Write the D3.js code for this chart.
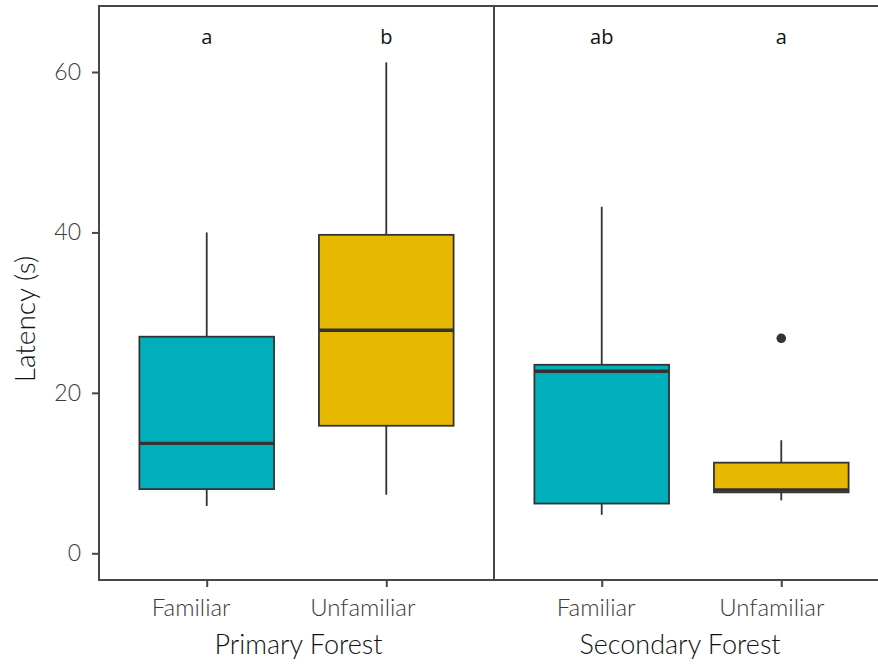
<!DOCTYPE html>
<html>
<head>
<meta charset="utf-8">
<script src="https://cdn.jsdelivr.net/npm/d3@7"></script>
<style>
  html, body { margin: 0; padding: 0; background: #fff; }
  svg { display: block; }
</style>
</head>
<body>
<svg id="chart" width="878" height="668"></svg>
<script>
// Latency by familiarity, split by forest type
const panels = ["Primary Forest", "Secondary Forest"];
const categories = ["Familiar", "Unfamiliar"];
// five-number summaries: [lower whisker, Q1, median, Q3, upper whisker]
const primaryStats = [
  [5.9, 8.0, 13.7, 27.0, 40.0],
  [7.3, 15.9, 27.8, 39.7, 61.2]
];
const secondaryStats = [
  [4.8, 6.2, 22.7, 23.5, 43.2],
  [6.6, 7.6, 7.9, 11.3, 14.1]
];
const primaryOutliers = [[], []];
const secondaryOutliers = [[], [26.8]];
const letters = [["a", "b"], ["ab", "a"]];
const yTicks = [0, 20, 40, 60];
const fillColors = ["#00AFBB", "#E7B800"];

// layout
const W = 878;
const frameTop = 6, frameBottom = 580;
const panelX = [[99, 494], [494, 889]];
const tickLabelShift = [[-16, -24], [-6, -10]];
const titleShift = [2, -6];

const svg = d3.select("#chart");
const y = d3.scaleLinear().domain([0, 60]).range([553.3, 72]);

const lineColor = "#333333";
const frameColor = "#474747";
const font = "Lato, 'Open Sans', sans-serif";

const statsByPanel = [primaryStats, secondaryStats];
const outliersByPanel = [primaryOutliers, secondaryOutliers];

panels.forEach((pName, pi) => {
  const [x0, x1] = panelX[pi];
  const x = d3.scalePoint().domain(categories).range([x0, x1]).padding(0.6);
  const boxW = x.step() * 0.75;
  const g = svg.append("g");

  // box plots
  categories.forEach((c, ci) => {
    const s = statsByPanel[pi][ci];
    const cx = x(c);
    g.append("line")
      .attr("x1", cx).attr("x2", cx)
      .attr("y1", y(s[0])).attr("y2", y(s[1]))
      .attr("stroke", lineColor).attr("stroke-width", 1.8);
    g.append("line")
      .attr("x1", cx).attr("x2", cx)
      .attr("y1", y(s[3])).attr("y2", y(s[4]))
      .attr("stroke", lineColor).attr("stroke-width", 1.8);
    g.append("rect")
      .attr("x", cx - boxW / 2).attr("width", boxW)
      .attr("y", y(s[3])).attr("height", y(s[1]) - y(s[3]))
      .attr("fill", fillColors[ci])
      .attr("stroke", lineColor).attr("stroke-width", 1.8);
    g.append("line")
      .attr("x1", cx - boxW / 2).attr("x2", cx + boxW / 2)
      .attr("y1", y(s[2])).attr("y2", y(s[2]))
      .attr("stroke", lineColor).attr("stroke-width", 3.4);
    outliersByPanel[pi][ci].forEach(v => {
      g.append("circle")
        .attr("cx", cx).attr("cy", y(v)).attr("r", 4.8)
        .attr("fill", lineColor);
    });
    // significance letters
    g.append("text")
      .attr("x", cx).attr("y", 44)
      .attr("text-anchor", "middle")
      .attr("font-family", "'Open Sans', 'Noto Sans', sans-serif")
      .attr("font-size", 20)
      .attr("fill", "#111")
      .text(letters[pi][ci]);
  });

  // x axis with category ticks
  const xAxis = g.append("g")
    .attr("transform", `translate(0,${frameBottom})`)
    .call(d3.axisBottom(x).tickSize(7).tickSizeOuter(0));
  xAxis.select(".domain").remove();
  xAxis.selectAll(".tick line").attr("stroke", frameColor).attr("stroke-width", 2);
  xAxis.selectAll(".tick text")
    .attr("y", 36).attr("dy", 0)
    .attr("dx", (d, i) => tickLabelShift[pi][i])
    .attr("font-family", font).attr("font-weight", 300)
    .attr("font-size", 24).attr("fill", "#3a3a3a");

  // panel frame
  const frame = [
    [x0, frameTop, x1, frameTop],
    [x0, frameBottom, x1, frameBottom],
    [x0, frameTop, x0, frameBottom],
    [x1, frameTop, x1, frameBottom]
  ];
  g.selectAll("line.frame").data(frame).join("line")
    .attr("class", "frame")
    .attr("x1", d => d[0]).attr("y1", d => d[1])
    .attr("x2", d => d[2]).attr("y2", d => d[3])
    .attr("stroke", frameColor).attr("stroke-width", 2)
    .attr("stroke-linecap", "square");

  // panel title below the axis
  g.append("text")
    .attr("x", (x0 + Math.min(x1, W)) / 2 + titleShift[pi])
    .attr("y", 654)
    .attr("text-anchor", "middle")
    .attr("font-family", font).attr("font-weight", 300)
    .attr("font-size", 27).attr("fill", "#111")
    .text(pName);
});

// y axis
const yAxis = svg.append("g")
  .attr("transform", `translate(${panelX[0][0]},0)`)
  .call(d3.axisLeft(y).tickValues(yTicks).tickSize(7).tickPadding(11).tickSizeOuter(0));
yAxis.select(".domain").remove();
yAxis.selectAll(".tick line").attr("stroke", frameColor).attr("stroke-width", 2);
yAxis.selectAll(".tick text")
  .attr("font-family", font).attr("font-weight", 300)
  .attr("font-size", 23).attr("fill", "#3a3a3a");

svg.append("text")
  .attr("transform", "translate(35,319) rotate(-90)")
  .attr("text-anchor", "middle")
  .attr("font-family", font).attr("font-weight", 300)
  .attr("font-size", 28).attr("fill", "#111")
  .text("Latency (s)");
</script>
</body>
</html>
